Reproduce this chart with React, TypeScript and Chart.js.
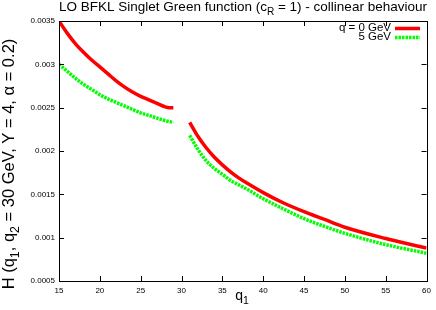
import React, { useEffect, useRef } from "react";
import { Chart, registerables } from "chart.js";
Chart.register(...registerables);

// ---- data ----
const qLow = [15, 16, 17, 18, 19, 20, 21, 22, 23, 24, 25, 26, 27, 28, 28.5, 29];
const redLow = [0.0035, 0.00336, 0.00324, 0.00314, 0.00305, 0.00297, 0.00289, 0.00281, 0.00274, 0.00268, 0.00263, 0.00259, 0.00255, 0.00251, 0.0025, 0.0025];
const greenLow = [0.003, 0.00292, 0.00284, 0.00277, 0.00271, 0.00265, 0.0026, 0.00256, 0.00252, 0.00248, 0.00244, 0.00241, 0.00238, 0.00235, 0.00234, 0.00233];
const qHigh = [31, 32, 33, 34, 35, 36, 37, 38, 40, 42.5, 45, 47.5, 50, 55, 60];
const redHigh = [0.00233, 0.00217, 0.00204, 0.00193, 0.00184, 0.00176, 0.00169, 0.00163, 0.00152, 0.0014, 0.0013, 0.00121, 0.00112, 0.00099, 0.00088];
const greenHigh = [0.00218, 0.00202, 0.00189, 0.0018, 0.00173, 0.00166, 0.00161, 0.00156, 0.00145, 0.00133, 0.00122, 0.00113, 0.00105, 0.00092, 0.00082];
const xTicks = [15, 20, 25, 30, 35, 40, 45, 50, 55, 60];
const yTicks = [0.0005, 0.001, 0.0015, 0.002, 0.0025, 0.003, 0.0035];
const seriesLabels = ["q = 0 GeV", "5 GeV"];
const FONT = '"Liberation Sans", Arial, sans-serif';

type Part = { t: string; sub?: boolean };

function drawRich(ctx: CanvasRenderingContext2D, parts: Part[], x: number, y: number, size: number, align: "left" | "center" | "right") {
  const subSize = size * 0.75;
  const widths = parts.map((p) => {
    ctx.font = `${p.sub ? subSize : size}px ${FONT}`;
    return ctx.measureText(p.t).width;
  });
  const total = widths.reduce((a, b) => a + b, 0);
  let cx = align === "left" ? x : align === "center" ? x - total / 2 : x - total;
  ctx.textAlign = "left";
  ctx.textBaseline = "alphabetic";
  parts.forEach((p, i) => {
    ctx.font = `${p.sub ? subSize : size}px ${FONT}`;
    ctx.fillText(p.t, cx, p.sub ? y + size * 0.28 : y);
    cx += widths[i];
  });
}

const decorPlugin = {
  id: "decor",
  afterDraw(chart: any) {
    const ctx = chart.ctx as CanvasRenderingContext2D;
    const { left, right, top, bottom } = chart.chartArea;
    const xs = chart.scales.x;
    const ys = chart.scales.y;
    ctx.save();
    // frame
    ctx.strokeStyle = "#000";
    ctx.lineWidth = 1;
    ctx.strokeRect(Math.round(left) + 0.5, Math.round(top) + 0.5, Math.round(right - left), Math.round(bottom - top));
    // inward ticks
    ctx.beginPath();
    const tl = 5;
    xTicks.forEach((v) => {
      const px = Math.round(xs.getPixelForValue(v)) + 0.5;
      ctx.moveTo(px, bottom);
      ctx.lineTo(px, bottom - tl);
      ctx.moveTo(px, top);
      ctx.lineTo(px, top + tl);
    });
    yTicks.forEach((v) => {
      const py = Math.round(ys.getPixelForValue(v)) + 0.5;
      ctx.moveTo(left, py);
      ctx.lineTo(left + tl, py);
      ctx.moveTo(right, py);
      ctx.lineTo(right - tl, py);
    });
    ctx.stroke();
    ctx.fillStyle = "#000";
    // title
    drawRich(ctx, [{ t: "LO BFKL Singlet Green function (c" }, { t: "R", sub: true }, { t: " = 1) - collinear behaviour" }], 243, 11, 13.5, "center");
    // x title
    drawRich(ctx, [{ t: "q" }, { t: "1", sub: true }], 242, 300, 14, "center");
    // y title
    ctx.save();
    ctx.translate(14, 164);
    ctx.rotate(-Math.PI / 2);
    drawRich(
      ctx,
      [{ t: "H (q" }, { t: "1", sub: true }, { t: ", q" }, { t: "2", sub: true }, { t: " = 30 GeV, Y = 4, α = 0.2)" }],
      0, 0, 16.5, "center"
    );
    ctx.restore();
    // legend
    ctx.font = `11.5px ${FONT}`;
    ctx.textAlign = "right";
    ctx.textBaseline = "middle";
    ctx.fillText(seriesLabels[0], 391, 28);
    ctx.fillText(seriesLabels[1], 391, 37);
    ctx.lineWidth = 3.5;
    ctx.strokeStyle = "#ff0000";
    ctx.beginPath();
    ctx.moveTo(395, 28.5);
    ctx.lineTo(420, 28.5);
    ctx.stroke();
    ctx.strokeStyle = "#00ff00";
    ctx.setLineDash([2.5, 1]);
    ctx.beginPath();
    ctx.moveTo(395, 37.5);
    ctx.lineTo(420, 37.5);
    ctx.stroke();
    ctx.restore();
  },
};

function pts(a: number[], b: number[], c: number[], d: number[]) {
  return [
    ...a.map((x, i) => ({ x, y: b[i] })),
    { x: (a[a.length - 1] + c[0]) / 2, y: null },
    ...c.map((x, i) => ({ x, y: d[i] })),
  ];
}

export default function App() {
  const ref = useRef<HTMLCanvasElement>(null);
  useEffect(() => {
    if (!ref.current) return;
    const chart = new Chart(ref.current, {
      type: "line",
      data: {
        datasets: [
          {
            label: seriesLabels[0],
            data: pts(qLow, redLow, qHigh, redHigh) as any,
            borderColor: "#ff0000",
            borderWidth: 3.5,
            pointRadius: 0,
            spanGaps: false,
            cubicInterpolationMode: "monotone",
          },
          {
            label: seriesLabels[1],
            data: pts(qLow, greenLow, qHigh, greenHigh) as any,
            borderColor: "#00ff00",
            borderWidth: 3.5,
            borderDash: [2.5, 1],
            pointRadius: 0,
            spanGaps: false,
            cubicInterpolationMode: "monotone",
          },
        ],
      },
      options: {
        responsive: false,
        animation: false,
        events: [],
        layout: { padding: { left: 0, top: 21, right: 6, bottom: 0 } },
        plugins: { legend: { display: false }, title: { display: false }, tooltip: { enabled: false } },
        scales: {
          x: {
            type: "linear",
            min: 15,
            max: 60,
            grid: { display: false, drawTicks: false },
            border: { display: false },
            afterBuildTicks: (s: any) => { s.ticks = xTicks.map((v) => ({ value: v })); },
            afterFit: (s: any) => { s.height = 29; },
            ticks: { font: { size: 8, family: FONT }, color: "#000", padding: 5, maxRotation: 0, autoSkip: false, callback: (v: any) => String(v) },
          },
          y: {
            type: "linear",
            min: 0.0005,
            max: 0.0035,
            grid: { display: false, drawTicks: false },
            border: { display: false },
            afterBuildTicks: (s: any) => { s.ticks = yTicks.map((v) => ({ value: v })); },
            afterFit: (s: any) => { s.width = 59; },
            ticks: { font: { size: 8, family: FONT }, color: "#000", padding: 4, autoSkip: false, callback: (v: any) => String(Number(Number(v).toFixed(4))) },
          },
        },
      },
      plugins: [decorPlugin],
    });
    return () => chart.destroy();
  }, []);
  return (
    <div style={{ position: "fixed", left: 0, top: 0, width: 436, height: 310, background: "#fff" }}>
      <canvas ref={ref} width={436} height={310} />
    </div>
  );
}
